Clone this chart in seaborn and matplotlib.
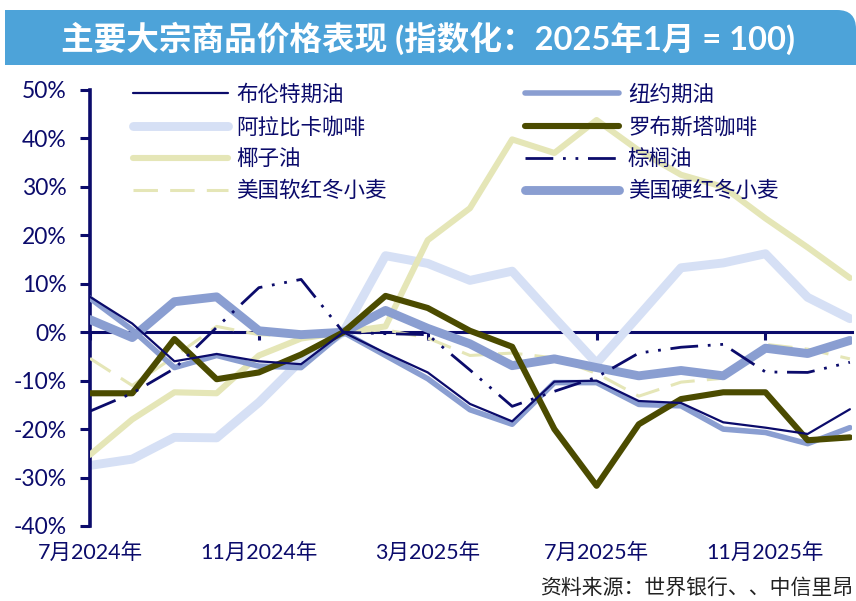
import matplotlib
matplotlib.use('Agg')
import matplotlib.pyplot as plt
import pandas as pd
import seaborn as sns
from matplotlib.patches import Rectangle, FancyBboxPatch

# monthly points, Jul 2024 .. Jan 2026 (index: Jan 2025 = 0%)
months = ['2024-07', '2024-08', '2024-09', '2024-10', '2024-11', '2024-12',
          '2025-01', '2025-02', '2025-03', '2025-04', '2025-05', '2025-06',
          '2025-07', '2025-08', '2025-09', '2025-10', '2025-11', '2025-12',
          '2026-01']
tick_months = ['2024-07', '2024-11', '2025-03', '2025-07', '2025-11']
tick_labels = ['7月2024年', '11月2024年', '3月2025年', '7月2025年', '11月2025年']

brent = [7.3, 1.8, -6.0, -4.5, -6.0, -6.6, 0, -4.3, -8.3, -14.8, -18.4,
         -10.2, -10.0, -14.2, -14.6, -18.6, -19.7, -21.0, -15.9]
wti = [7.0, 0.5, -7.3, -4.8, -7.0, -7.3, 0, -4.8, -9.6, -16.0, -19.0,
       -10.4, -10.4, -14.9, -15.2, -20.0, -20.7, -23.0, -19.7]
arabica = [-27.5, -26.2, -21.7, -21.8, -14.5, -5.8, 0, 15.8, 14.2, 10.7, 12.6,
           3.0, -6.4, 3.4, 13.3, 14.3, 16.2, 7.2, 2.8]
robusta = [-12.6, -12.6, -1.4, -9.7, -8.3, -4.6, 0, 7.5, 5.0, 0.3, -3.0,
           -20.0, -31.7, -19.0, -13.8, -12.4, -12.4, -22.3, -21.7]
coconut = [-25.3, -18.0, -12.4, -12.6, -4.8, -1.3, 0, 1.2, 19.0, 25.6, 39.8,
           37.0, 43.8, 37.5, 32.5, 30.0, 23.5, 17.5, 11.2]
palm = [-16.3, -12.6, -7.5, 1.0, 9.2, 10.9, 0, -0.3, -0.5, -7.8, -15.3,
        -12.2, -9.3, -4.3, -3.1, -2.5, -8.2, -8.3, -6.2]
soft_wheat = [-5.4, -11.0, -5.0, 1.2, -0.5, -0.8, 0, 0.5, -1.2, -4.8, -4.3,
              -5.3, -8.5, -13.2, -10.3, -9.5, -2.5, -3.5, -5.5]
hrw_wheat = [2.6, -1.1, 6.3, 7.3, 0.3, -0.5, 0, 4.5, 0.8, -2.4, -6.9,
             -5.5, -7.3, -9.0, -7.9, -9.0, -3.3, -4.4, -1.7]

NAVY = '#0B0B6B'
PERI = '#8A9ED1'

df = pd.DataFrame({
    'month': months,
    '布伦特期油': brent,
    '纽约期油': wti,
    '阿拉比卡咖啡': arabica,
    '罗布斯塔咖啡': robusta,
    '椰子油': coconut,
    '棕榈油': palm,
    '美国软红冬小麦': soft_wheat,
    '美国硬红冬小麦': hrw_wheat,
})
df['i'] = range(len(df))

styles = {
    '阿拉比卡咖啡': dict(color='#D6E0F5', lw=6.4, zorder=2),
    '椰子油': dict(color='#E5E6B7', lw=4.4, zorder=3),
    '美国软红冬小麦': dict(color='#E5E6B7', lw=2.2, zorder=3.5, linestyle=(0, (8, 4))),
    '美国硬红冬小麦': dict(color=PERI, lw=6.4, zorder=4),
    '纽约期油': dict(color=PERI, lw=4.0, zorder=4.5),
    '罗布斯塔咖啡': dict(color='#4B4B00', lw=4.4, zorder=5),
    '布伦特期油': dict(color=NAVY, lw=1.6, zorder=6),
    '棕榈油': dict(color=NAVY, lw=2.0, zorder=6.5, linestyle=(0, (10, 3.5, 1, 3.5, 1, 3.5))),
}

sns.set_style('white')
plt.rcParams['font.family'] = ['Lato', 'Noto Sans CJK SC', 'DejaVu Sans']
plt.rcParams['axes.unicode_minus'] = False

fig = plt.figure(figsize=(8.56, 6.01), dpi=100)
W, H = 856, 601

# title band
band_col = '#4DA3D9'
fig.add_artist(Rectangle((5 / W, 1 - 65 / H), 820 / W, 55 / H,
                         transform=fig.transFigure, color=band_col, lw=0))
fig.add_artist(FancyBboxPatch((780 / W, 1 - 65 / H), 76 / W, 55 / H,
                              boxstyle='round,pad=0,rounding_size=0.022',
                              mutation_aspect=W / H,
                              transform=fig.transFigure, color=band_col, lw=0))
fig.add_artist(Rectangle((780 / W, 1 - 65 / H), 76 / W, 28 / H,
                         transform=fig.transFigure, color=band_col, lw=0))
fig.text(428 / W, 1 - 38 / H, '主要大宗商品价格表现 (指数化：2025年1月 = 100)',
         ha='center', va='center', color='white', fontsize=23.5, fontweight='bold')

ax = fig.add_axes([90 / W, (H - 526) / H, (852 - 90) / W, (526 - 90) / H])

for name, st in styles.items():
    st = dict(st)
    lw = st.pop('lw')
    sns.lineplot(data=df, x='i', y=name, ax=ax, label=name, linewidth=lw,
                 solid_capstyle='round', **st)

ax.set_xlim(0, 18.05)
ax.set_ylim(-40, 50)
yt = list(range(-40, 51, 10))
ax.set_yticks(yt)
ax.set_yticklabels([f'{v}%' for v in yt])
ax.set_xlabel('')
ax.set_ylabel('')

for s in ['top', 'right']:
    ax.spines[s].set_visible(False)
ax.spines['left'].set_color(NAVY)
ax.spines['left'].set_linewidth(2.6)
ax.spines['bottom'].set_position(('data', 0))
ax.spines['bottom'].set_color(NAVY)
ax.spines['bottom'].set_linewidth(2.2)
ax.spines['bottom'].set_zorder(1)

tick_idx = [months.index(m) for m in tick_months]
ax.set_xticks(tick_idx)
ax.tick_params(axis='x', direction='out', length=6, width=2.2, color=NAVY,
               labelbottom=False, bottom=True)
ax.tick_params(axis='y', direction='out', length=7, width=2.2, color=NAVY,
               labelcolor=NAVY, labelsize=16.5, pad=10, left=True)

sec = ax.secondary_xaxis('bottom')
sec.set_xticks(tick_idx)
sec.set_xticklabels(tick_labels)
sec.spines['bottom'].set_visible(False)
sec.tick_params(length=0, pad=12, labelsize=15.5, labelcolor=NAVY)

order = ['布伦特期油', '阿拉比卡咖啡', '椰子油', '美国软红冬小麦',
         '纽约期油', '罗布斯塔咖啡', '棕榈油', '美国硬红冬小麦']
handles, labels = ax.get_legend_handles_labels()
hmap = dict(zip(labels, handles))
leg = ax.legend([hmap[n] for n in order], order, ncol=2, frameon=False,
                loc='upper left', bbox_to_anchor=((133 - 90) / 762, 1 + 6 / 436),
                borderaxespad=0, borderpad=0, fontsize=15.5,
                handlelength=4.4, handletextpad=0.4, columnspacing=6.4,
                labelspacing=0.47, labelcolor=NAVY)
for t in leg.get_texts():
    t.set_family(['Noto Sans CJK SC', 'DejaVu Sans'])

fig.text(853 / W, 1 - 588 / H, '资料来源：世界银行、、中信里昂', ha='right',
         va='center', fontsize=15, color='#222222',
         family=['Noto Sans CJK SC', 'DejaVu Sans'])

fig.savefig('out.png', dpi=100)
